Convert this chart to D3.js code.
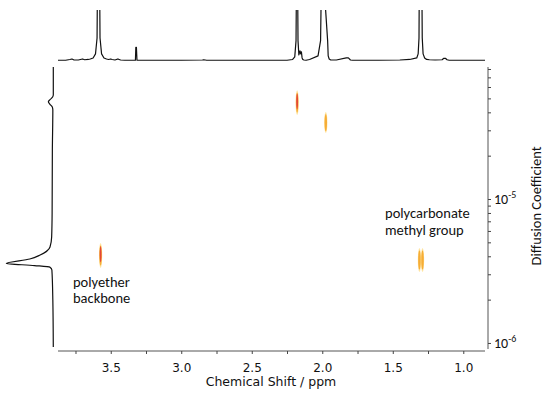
<!DOCTYPE html>
<html><head><meta charset="utf-8">
<script src="https://cdn.jsdelivr.net/npm/d3@7"></script>
<style>
html,body{margin:0;padding:0;background:#fff;}
svg{display:block;}
</style></head>
<body>
<svg id="c" width="550" height="396"></svg>
<script>
// ---- data ----
// 1D proton spectrum trace (ppm, relative intensity; >100 runs off the top of the panel)
const specPpm = [3.874,3.82,3.79,3.775,3.76,3.73,3.715,3.70,3.685,3.66,3.645,3.625,3.608,3.597,3.593,3.580,3.576,3.565,3.548,3.53,3.515,3.50,3.49,3.47,3.455,3.445,3.43,3.40,3.325,3.322,3.318,3.314,3.25,3.0,2.85,2.84,2.82,2.6,2.40,2.25,2.21,2.195,2.186,2.182,2.176,2.172,2.166,2.158,2.153,2.148,2.143,2.138,2.13,2.115,2.09,2.03,2.012,2.004,2.000,1.962,1.958,1.951,1.94,1.90,1.83,1.815,1.80,1.785,1.76,1.60,1.45,1.38,1.33,1.32,1.314,1.311,1.307,1.303,1.299,1.295,1.291,1.285,1.274,1.26,1.24,1.20,1.15,1.14,1.125,1.115,1.10,1.00,0.846];
const specInt = [1.5,1.5,3,4,2,2,3,4,2.5,3,4,6,14,45,200,200,45,14,6,4,3,4,3,2,3.5,3.5,2,1.5,1.5,27,27,1.5,1.5,1.5,2,2.5,1.5,1.5,1.5,1.5,3,8,40,200,200,40,12,20,14,18,6,3,2,1.5,3,10,40,200,200,40,10,4,2,2,6,6,2,1.5,1.5,1.5,2,3,6,14,45,200,170,200,170,200,45,14,6,3,2.5,2,2.5,5,5,2.5,1.5,1.5,1.5];
// diffusion projection trace (diffusion coefficient, relative intensity)
const projD   = [8.26e-5,5.3e-5,5.11e-5,4.9e-5,4.74e-5,4.55e-5,4.35e-5,4.15e-5,2.19e-5,8e-6,5.44e-6,4.64e-6,4.08e-6,3.83e-6,3.57e-6,3.45e-6,3.36e-6,3.21e-6,1.99e-6,9.38e-7];
const projInt = [0,0,1.5,7,10.5,7,2,1,2,2.5,3.5,7,28,50,100,40,7,3,1,0];
// 2D DOSY cross peaks
const peakPpm  = [3.572, 2.178, 1.975, 1.311, 1.289];
const peakDhi  = [4.94e-6, 5.7e-5, 4.02e-5, 4.57e-6, 4.57e-6];
const peakDlo  = [3.32e-6, 3.83e-5, 2.87e-5, 3.11e-6, 3.11e-6];
const peakLevel= [3, 3, 2, 2, 2];
// axes
const xTicks = [3.75,3.5,3.25,3.0,2.75,2.5,2.25,2.0,1.75,1.5,1.25,1.0];
const xLabels = [3.5,3.0,2.5,2.0,1.5,1.0];
const yMajor = [1e-5, 1e-6];
const yLabelExp = ["-5","-6"];
// annotations
const notes = [
  {lines:["polyether","backbone"], ppm:3.768, D:2.45e-6},
  {lines:["polycarbonate","methyl group"], ppm:1.555, D:7.38e-6}
];

// ---- drawing ----
const svg = d3.select("#c");
const x = d3.scaleLinear().domain([3.874, 0.846]).range([58, 485]);
const y = d3.scaleLog().domain([8.26e-5, 9.08e-7]).range([67, 349]);
const specY = d3.scaleLinear().domain([0,100]).range([61, 10]);
const projX = d3.scaleLinear().domain([0,100]).range([53.3, 6.3]);

const defs = svg.append("defs");
defs.append("clipPath").attr("id","topclip").append("rect")
  .attr("x",0).attr("y",10).attr("width",550).attr("height",60);

// top spectrum
const spec = specPpm.map((p,i)=>[p, specInt[i]]);
svg.append("path").datum(spec).attr("clip-path","url(#topclip)")
  .attr("fill","none").attr("stroke","#111").attr("stroke-width",1.2)
  .attr("stroke-linejoin","round")
  .attr("d", d3.line().x(d=>x(d[0])).y(d=>specY(d[1])));

// left projection
const proj = projD.map((d,i)=>[d, projInt[i]]);
svg.append("path").datum(proj)
  .attr("fill","none").attr("stroke","#111").attr("stroke-width",1.2)
  .attr("stroke-linejoin","round")
  .attr("d", d3.line().y(d=>y(d[0])).x(d=>projX(d[1])).curve(d3.curveMonotoneY));

// 2D peaks as nested contours
const levelColors = ["#ffe39a","#f6aa30","#e2403a"];
peakPpm.forEach((p,i)=>{
  const cx = x(p);
  const y0 = y(peakDhi[i]), y1 = y(peakDlo[i]);
  const cy = (y0+y1)/2, ry = (y1-y0)/2;
  const g = svg.append("g");
  for(let l=0;l<peakLevel[i];l++){
    const f = 1 - l*0.18;
    g.append("ellipse").attr("cx",cx).attr("cy", cy - (l===2 ? ry*0.1 : 0))
      .attr("rx", 1.6 - l*0.35).attr("ry", ry*f)
      .attr("fill", levelColors[l]).attr("opacity", 0.95);
  }
});

// x axis
const xAxis = d3.axisBottom(x).tickValues(xTicks).tickSize(3).tickPadding(9)
  .tickFormat(d => xLabels.some(v=>Math.abs(v-d)<1e-9) ? d3.format(".1f")(d) : "");
const gx = svg.append("g").attr("transform","translate(0,351)").call(xAxis);
gx.select(".domain").attr("stroke","#555").attr("d","M58,0H485");
gx.selectAll(".tick line").attr("stroke","#444");
gx.selectAll(".tick text").attr("fill","#111").style("font-family","'DejaVu Sans', Verdana, sans-serif").style("font-size","12px");
svg.append("text").attr("x",271).attr("y",386).attr("text-anchor","middle")
  .style("font-family","'DejaVu Sans', Verdana, sans-serif").style("font-size","12.5px").attr("fill","#111")
  .text("Chemical Shift / ppm");

// y axis (right)
const yMinor = [];
[1e-6,1e-5].forEach(b=>{ for(let k=1;k<=9;k++){ const v=b*k; if(v>=9.08e-7 && v<=8.26e-5) yMinor.push(v);} });
const yAxis = d3.axisRight(y).tickValues(yMinor).tickSize(3).tickFormat("");
const gy = svg.append("g").attr("transform","translate(488,0)").call(yAxis);
gy.select(".domain").attr("stroke","#555").attr("d","M0,67V349");
gy.selectAll(".tick line").attr("stroke","#444");
yMajor.forEach((v,i)=>{
  const t = svg.append("text").attr("x",494).attr("y",y(v)+5)
    .style("font-family","Carlito, Lato, 'Open Sans', sans-serif").style("font-size","14px").attr("fill","#111");
  t.append("tspan").text("10");
  t.append("tspan").attr("dy",-6).style("font-size","10px").text(yLabelExp[i]);
});
svg.append("text").attr("transform","translate(541,206) rotate(-90)").attr("text-anchor","middle")
  .style("font-family","Carlito, Lato, 'Open Sans', sans-serif").style("font-size","14.5px").attr("fill","#111")
  .text("Diffusion Coefficient");

// annotations
notes.forEach(n=>{
  const t = svg.append("text").attr("x",x(n.ppm)).attr("y",y(n.D))
    .style("font-family","Carlito, Lato, 'Open Sans', sans-serif").style("font-size","14.5px").attr("fill","#111");
  n.lines.forEach((s,j)=> t.append("tspan").attr("x",x(n.ppm)).attr("dy", j===0?0:16.5).text(s));
});
</script>
</body></html>
